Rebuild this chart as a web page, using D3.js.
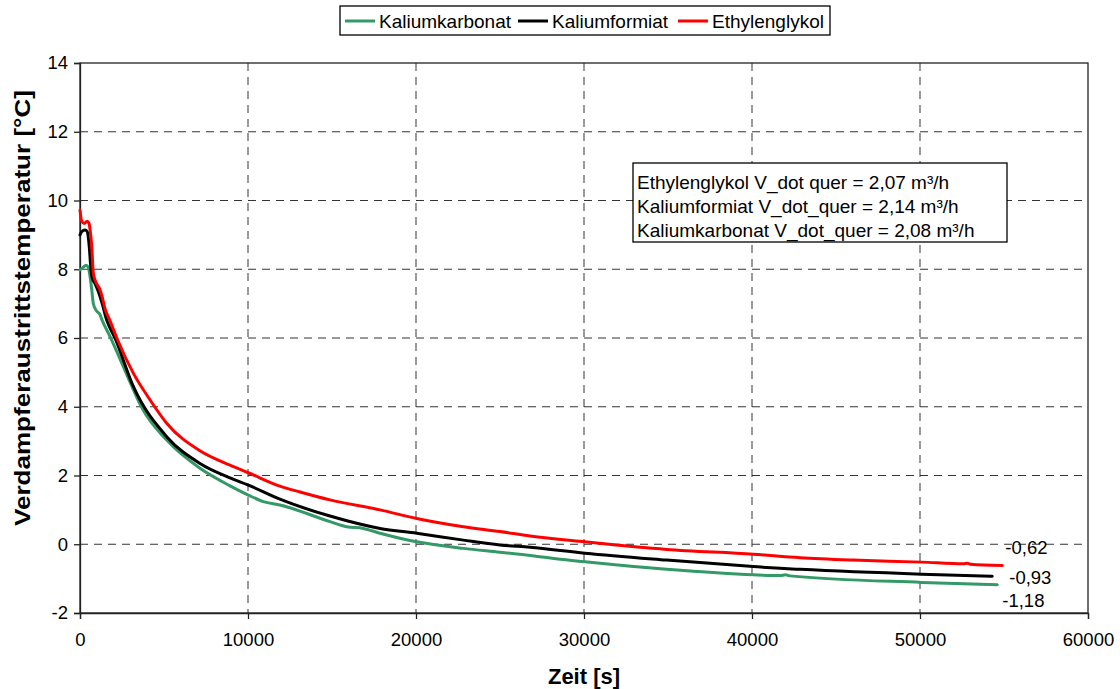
<!DOCTYPE html>
<html>
<head>
<meta charset="utf-8">
<script src="https://cdn.jsdelivr.net/npm/d3@7"></script>
<style>
  html, body { margin: 0; padding: 0; background: #fff; }
  svg { display: block; font-family: "Liberation Sans", Arial, sans-serif; }
</style>
</head>
<body>
<svg id="chart" width="1120" height="689"></svg>
<script>
// Evaporator outlet temperature over time for three brines
const seriesNames = ["Kaliumkarbonat", "Kaliumformiat", "Ethylenglykol"];
const seriesColors = ["#339966", "#000000", "#ff0000"];

// Kaliumkarbonat: time [s], temperature [°C]
const timeKarbonat = [0, 200, 360, 490, 600, 700, 790, 950, 1190, 1290, 1790, 3175, 3670, 5160, 7140, 8930, 10020, 10910, 11900, 14880, 15870, 16860, 17860, 20040, 22820, 25000, 30060, 34920, 40080, 41670, 42000, 42250, 50100, 54600];
const tempKarbonat = [7.98, 8.06, 8.12, 8.06, 7.78, 7.40, 7.01, 6.81, 6.68, 6.55, 6.04, 4.50, 3.98, 3.03, 2.21, 1.70, 1.43, 1.24, 1.14, 0.66, 0.51, 0.46, 0.32, 0.07, -0.12, -0.23, -0.51, -0.73, -0.89, -0.91, -0.89, -0.92, -1.11, -1.18];

// Kaliumformiat
const timeFormiat = [0, 100, 300, 435, 550, 640, 730, 890, 1090, 1290, 1590, 2080, 3175, 5160, 7140, 8930, 10020, 11900, 14880, 17860, 20040, 22820, 25000, 26790, 30060, 34920, 40080, 41670, 42860, 50100, 54300];
const tempFormiat = [9.00, 9.09, 9.14, 9.09, 8.66, 8.07, 7.74, 7.59, 7.35, 7.05, 6.52, 6.00, 4.59, 3.13, 2.35, 1.93, 1.72, 1.31, 0.82, 0.46, 0.32, 0.12, -0.02, -0.09, -0.26, -0.46, -0.65, -0.70, -0.73, -0.87, -0.93];

// Ethylenglykol
const timeGlykol = [0, 100, 250, 430, 530, 600, 700, 790, 950, 1150, 1290, 1490, 1790, 2190, 3180, 4170, 5160, 7140, 8930, 10020, 11900, 13100, 14880, 17860, 20040, 22820, 25000, 26790, 30060, 34920, 40080, 42860, 46000, 50100, 52600, 52800, 53000, 54900];
const tempGlykol = [9.72, 9.40, 9.33, 9.40, 9.34, 9.15, 8.66, 7.90, 7.62, 7.45, 7.25, 6.85, 6.50, 6.00, 4.97, 4.20, 3.52, 2.72, 2.30, 2.08, 1.69, 1.52, 1.29, 1.00, 0.75, 0.51, 0.37, 0.24, 0.07, -0.15, -0.29, -0.39, -0.46, -0.52, -0.57, -0.55, -0.58, -0.62];

const xTicks = [0, 10000, 20000, 30000, 40000, 50000, 60000];
const yTicks = [-2, 0, 2, 4, 6, 8, 10, 12, 14];

const infoLines = [
  "Ethylenglykol V_dot quer = 2,07 m³/h",
  "Kaliumformiat V_dot_quer = 2,14 m³/h",
  "Kaliumkarbonat V_dot_quer = 2,08 m³/h"
];

const xTitle = "Zeit [s]";
const yTitle = "Verdampferaustrittstemperatur [°C]";

// ---------- layout ----------
const plot = { left: 80, right: 1088, top: 63, bottom: 613 };
const svg = d3.select("#chart");

const x = d3.scaleLinear().domain([0, 60000]).range([plot.left, plot.right]);
const y = d3.scaleLinear().domain([-2, 14]).range([plot.bottom, plot.top]);

const series = [
  { name: seriesNames[0], color: seriesColors[0], t: timeKarbonat, v: tempKarbonat },
  { name: seriesNames[1], color: seriesColors[1], t: timeFormiat, v: tempFormiat },
  { name: seriesNames[2], color: seriesColors[2], t: timeGlykol, v: tempGlykol }
];

// grid lines (dashed)
const grid = svg.append("g").attr("class", "grid");
grid.selectAll("line.gx")
  .data(xTicks.slice(1, -1))
  .join("line")
  .attr("x1", d => x(d)).attr("x2", d => x(d))
  .attr("y1", plot.top).attr("y2", plot.bottom)
  .attr("stroke", "#333").attr("stroke-width", 1)
  .attr("stroke-dasharray", "8,6");
grid.selectAll("line.gy")
  .data(yTicks.slice(1, -1))
  .join("line")
  .attr("x1", plot.left).attr("x2", plot.right)
  .attr("y1", d => y(d)).attr("y2", d => y(d))
  .attr("stroke", "#333").attr("stroke-width", 1)
  .attr("stroke-dasharray", "8,6");

// frame
svg.append("rect")
  .attr("x", plot.left).attr("y", plot.top)
  .attr("width", plot.right - plot.left).attr("height", plot.bottom - plot.top)
  .attr("fill", "none").attr("stroke", "#222").attr("stroke-width", 1.3);

// axes
const xAxis = svg.append("g")
  .attr("transform", `translate(0,${plot.bottom})`)
  .call(d3.axisBottom(x).tickValues(xTicks).tickSize(6).tickPadding(14).tickFormat(d => String(d)));
const yAxis = svg.append("g")
  .attr("transform", `translate(${plot.left},0)`)
  .call(d3.axisLeft(y).tickValues(yTicks).tickSize(6).tickPadding(6).tickFormat(d => String(d)));

[xAxis, yAxis].forEach(a => {
  a.select(".domain").attr("stroke", "#222").attr("stroke-width", 1.3);
  a.selectAll(".tick line").attr("stroke", "#222").attr("stroke-width", 1.3);
  a.selectAll(".tick text")
    .attr("fill", "#000")
    .style("font-family", '"Liberation Sans", Arial, sans-serif')
    .style("font-size", "18.5px");
});

// data lines
const line = d3.line()
  .x(d => x(d[0]))
  .y(d => y(d[1]))
  .curve(d3.curveMonotoneX);

const lines = svg.append("g").attr("class", "lines");
series.forEach(s => {
  const pts = s.t.map((t, i) => [t, s.v[i]]);
  lines.append("path")
    .datum(pts)
    .attr("d", line)
    .attr("fill", "none")
    .attr("stroke", s.color)
    .attr("stroke-width", 3)
    .attr("stroke-linejoin", "round")
    .attr("stroke-linecap", "round");
});

// end-value labels
const endOffsets = [[5, 16], [17, 1], [3, -18]]; // per series: dx, dy from the last point
const fmt = v => v.toFixed(2).replace(".", ",");
series.forEach((s, i) => {
  const lastT = s.t[s.t.length - 1];
  const lastV = s.v[s.v.length - 1];
  svg.append("text")
    .attr("x", x(lastT) + endOffsets[i][0])
    .attr("y", y(lastV) + endOffsets[i][1])
    .attr("dy", "0.35em")
    .style("font-size", "18.5px")
    .attr("fill", "#000")
    .text(fmt(lastV));
});

// info box with mean flow rates
const info = svg.append("g").attr("class", "info");
info.append("rect")
  .attr("x", 633).attr("y", 163).attr("width", 374).attr("height", 79)
  .attr("fill", "#fff").attr("stroke", "#000").attr("stroke-width", 1.3);
info.selectAll("text")
  .data(infoLines)
  .join("text")
  .attr("x", 637)
  .attr("y", (d, i) => 182 + i * 24)
  .attr("dy", "0.35em")
  .style("font-size", "19px")
  .attr("fill", "#000")
  .text(d => d);

// legend
const legend = svg.append("g").attr("class", "legend");
legend.append("rect")
  .attr("x", 340).attr("y", 6).attr("width", 490).attr("height", 29)
  .attr("fill", "#fff").attr("stroke", "#000").attr("stroke-width", 1.3);
const legendX = [345, 518, 678];
series.forEach((s, i) => {
  legend.append("line")
    .attr("x1", legendX[i]).attr("x2", legendX[i] + 30)
    .attr("y1", 21).attr("y2", 21)
    .attr("stroke", s.color).attr("stroke-width", 3);
  legend.append("text")
    .attr("x", legendX[i] + 34).attr("y", 21)
    .attr("dy", "0.35em")
    .style("font-size", "19px")
    .attr("fill", "#000")
    .text(s.name);
});

// axis titles
svg.append("text")
  .attr("x", (plot.left + plot.right) / 2)
  .attr("y", 684)
  .attr("text-anchor", "middle")
  .style("font-size", "22px").style("font-weight", "bold")
  .attr("fill", "#000")
  .text(xTitle);

svg.append("text")
  .attr("transform", "translate(30,308) rotate(-90)")
  .attr("text-anchor", "middle")
  .attr("textLength", 436)
  .attr("lengthAdjust", "spacingAndGlyphs")
  .style("font-size", "22px").style("font-weight", "bold")
  .attr("fill", "#000")
  .text(yTitle);
</script>
</body>
</html>
